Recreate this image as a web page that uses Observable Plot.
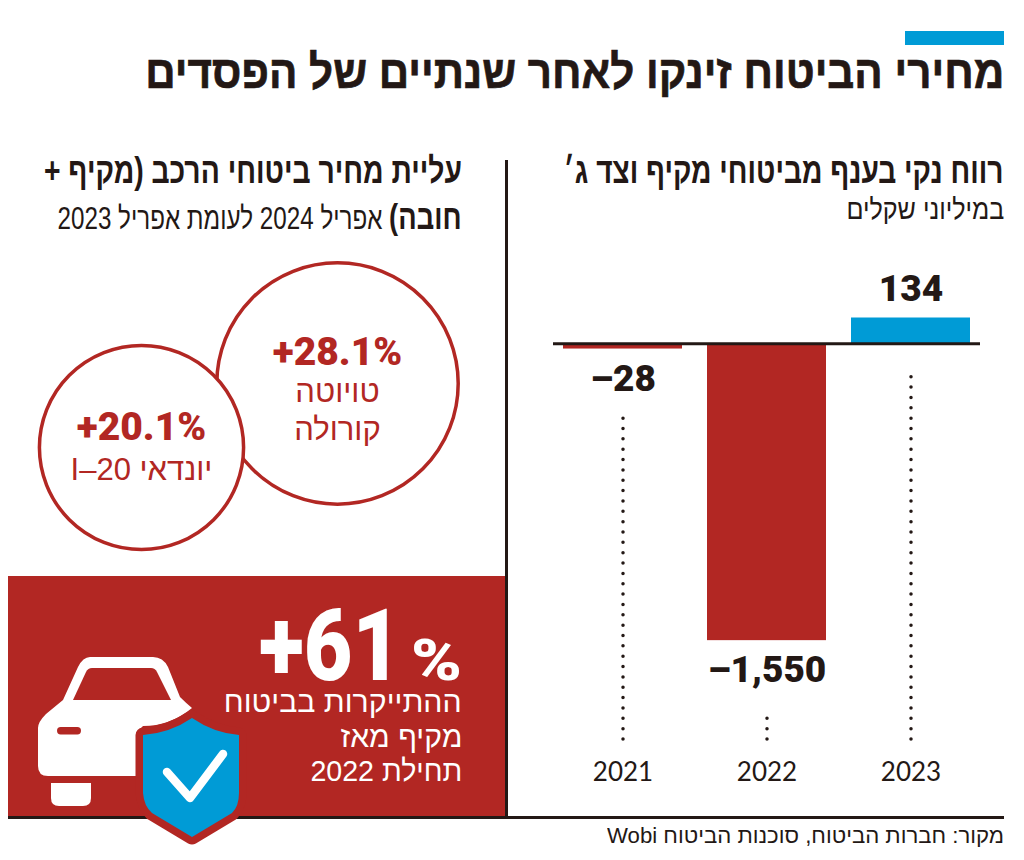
<!DOCTYPE html>
<html lang="he">
<head>
<meta charset="utf-8">
<script src="https://cdn.jsdelivr.net/npm/d3@7"></script>
<script src="https://cdn.jsdelivr.net/npm/@observablehq/plot@0.6"></script>
<style>
html,body{margin:0;padding:0;background:#fff;}
#page{position:relative;width:1024px;height:860px;overflow:hidden;font-family:"Liberation Sans",sans-serif;color:#231815;}
#page>svg{position:absolute;left:0;top:0;max-width:none;}
.t{position:absolute;white-space:nowrap;direction:rtl;transform-origin:100% 50%;line-height:1;}
.box{position:absolute;}
.he text{direction:rtl;}
</style>
</head>
<body>
<div id="page"></div>
<script>
const RED = "#b22723", BLUE = "#009bd6", INK = "#231815";

// Right panel: net profit, millions of shekels
const years = ["2021", "2022", "2023"];
const profit = [-28, -1550, 134];
const profitLabels = ["–28", "–1,550", "134"];
const leaderTop = [-378, -1905, -122];
const leaderBottom = -2066;

// Left panel: price rise per car model, percent
const carNames = ["יונדאי I–20", "טויוטה\nקורולה"];
const carRise = [20.1, 28.1];
const carRiseLabels = ["+20.1%", "+28.1%"];

const title = "מחירי הביטוח זינקו לאחר שנתיים של הפסדים";
const rightHead = "רווח נקי בענף מביטוחי מקיף וצד ג׳";
const rightSub = "במיליוני שקלים";
const leftHead1 = "עליית מחיר ביטוחי הרכב (מקיף +";
const leftHead2a = "חובה)";
const leftHead2b = "אפריל 2024 לעומת אפריל 2023";
const bigLines = ["ההתייקרות בביטוח", "מקיף מאז", "תחילת 2022"];
const source = "מקור: חברות הביטוח, סוכנות הביטוח Wobi";

const page = document.getElementById("page");

function box(x, y, w, h, color) {
  const d = document.createElement("div");
  d.className = "box";
  d.style.cssText = `left:${x}px;top:${y}px;width:${w}px;height:${h}px;background:${color}`;
  page.appendChild(d);
}
// Hebrew line placed by right edge and baseline, fitted to a measured width
function line(html, right, baseline, size, weight, width, color = INK, stroke = 0) {
  const d = document.createElement("div");
  d.className = "t";
  d.innerHTML = html;
  d.style.cssText = `right:${1024 - right}px;top:${baseline - size * 0.905}px;font-size:${size}px;font-weight:${weight};color:${color};-webkit-text-stroke:${stroke}px ${color}`;
  page.appendChild(d);
  const k = width / d.getBoundingClientRect().width;
  d.style.transform = `scaleX(${k})`;
  return d;
}

box(8, 576, 497, 241, RED);
box(905, 31, 99, 14, BLUE);
box(505, 160, 2.5, 658, INK);
box(8, 816, 996, 2.5, INK);

line(title, 1004, 91, 47, 700, 859, INK, 0.7);
line(rightHead, 1003, 186, 36, 700, 440);
line(rightSub, 1004, 221, 29, 400, 158);
line(leftHead1, 462, 186, 36, 700, 418);
line(`<b style="font-size:35px">${leftHead2a}</b> ${leftHead2b}`, 462, 227, 31, 400, 404);
line(source, 1004, 845, 22, 400, 397);
line(bigLines[0], 462, 714, 30, 400, 238, "#fff");
line(bigLines[1], 462, 749, 30, 400, 122, "#fff");
line(bigLines[2], 462, 783, 30, 400, 152, "#fff");

const numFont = "Roboto, sans-serif";

// Bar chart
const rows = years.map((year, i) => ({year, value: profit[i], label: profitLabels[i], top: leaderTop[i]}));
const barPlot = Plot.plot({
  width: 1024, height: 860,
  marginLeft: 553, marginRight: 44, marginTop: 280, marginBottom: 121,
  style: {background: "transparent", fontFamily: numFont, overflow: "visible"},
  x: {domain: years, range: [563, 970], paddingInner: 25 / 144, paddingOuter: 0, align: 0.5, axis: null, label: null},
  y: {domain: [134, leaderBottom], range: [317.5, 739], axis: null, label: null},
  marks: [
    Plot.ruleX(rows, {x: "year", y1: leaderBottom, y2: "top", stroke: INK, strokeWidth: 3.5, strokeLinecap: "round", strokeDasharray: "0 10.35"}),
    Plot.barY(rows, {x: "year", y1: 0, y2: "value", fill: d => d.value < 0 ? RED : BLUE}),
    Plot.ruleY([0], {stroke: INK, strokeWidth: 3}),
    Plot.text(rows.filter(d => d.value > 0), {x: "year", y: "value", text: "label", dy: -29, fontSize: 37, fontWeight: 900, fill: INK}),
    Plot.text(rows.filter(d => d.value < 0), {x: "year", y: "value", text: "label", dy: 30, fontSize: 37, fontWeight: 900, fill: INK}),
    Plot.axisX({domain: years, anchor: "bottom", tickSize: 0, tickPadding: 23, fontSize: 26, fontWeight: 400, fontFamily: "Lato", label: null, fill: INK})
  ]
});
page.appendChild(barPlot);

// Circles
const cars = carNames.map((name, i) => ({name, rise: carRise[i], label: carRiseLabels[i]}));
const [hyundai, toyota] = cars;
const at = {x: "name", y: "name"};
const riseMark = (d, dy) => Plot.text([d], {...at, text: "label", dy, fontSize: 39, fontWeight: 900, fill: RED});
const nameMark = (d, dy) => Plot.text([d], {...at, text: "name", dy, fontSize: 31, fontWeight: 400, lineHeight: 1.2, fill: RED, fontFamily: "Liberation Sans", className: "he"});
const circlePlot = Plot.plot({
  width: 1024, height: 860, margin: 0,
  style: {background: "transparent", fontFamily: numFont, overflow: "visible"},
  x: {type: "point", domain: [hyundai.name, toyota.name], range: [140.5, 336.7], padding: 0, axis: null},
  y: {type: "point", domain: [toyota.name, hyundai.name], range: [383, 447.5], padding: 0, axis: null},
  r: {type: "sqrt", domain: [0, 28.1], range: [0, 120.7]},
  marks: [
    Plot.dot([toyota, hyundai], {...at, r: "rise", fill: "#fff", stroke: RED, strokeWidth: 3.5}),
    riseMark(toyota, -31), nameMark(toyota, 25.5),
    riseMark(hyundai, -19.5), nameMark(hyundai, 20.5)
  ]
});
page.appendChild(circlePlot);

// +61% figure
const NS = "http://www.w3.org/2000/svg";
const icon = document.createElementNS(NS, "svg");
icon.setAttribute("width", 1024); icon.setAttribute("height", 860);
icon.innerHTML = `
<text y="680" font-family="Roboto" font-weight="900" fill="#fff"><tspan x="259" font-size="101" textLength="142" lengthAdjust="spacingAndGlyphs">+61</tspan><tspan x="411" font-size="58" textLength="51" lengthAdjust="spacingAndGlyphs">%</tspan></text>
<path d="M90 657H153Q163 657 168 667L180 697Q186 703 192 708Q170 726 143 726L136 733V776H48Q38 776 38 766V728Q38 722 46 714L63 700L78 667Q83 657 90 657Z" fill="#fff"/>
<path d="M73 700H171L157 672Q155 668 151 668H92Q88 668 86 672Z" fill="${RED}"/>
<rect x="57" y="727" width="24" height="7.5" rx="3.7" fill="${RED}"/>
<path d="M51 783H91V798Q91 806 83 806H59Q51 806 51 798Z" fill="#fff"/>
<path d="M192 718Q170 733 143 735V793Q144 806 152 813L192 837L232 813Q239 806 239 793V735Q214 733 192 718Z" fill="${BLUE}" stroke="${RED}" stroke-width="15" stroke-linejoin="round" paint-order="stroke"/>
<path d="M167 772L190 798L223 754" fill="none" stroke="#fff" stroke-width="8.5" stroke-linecap="round" stroke-linejoin="round"/>`;
page.appendChild(icon);
</script>
</body>
</html>
